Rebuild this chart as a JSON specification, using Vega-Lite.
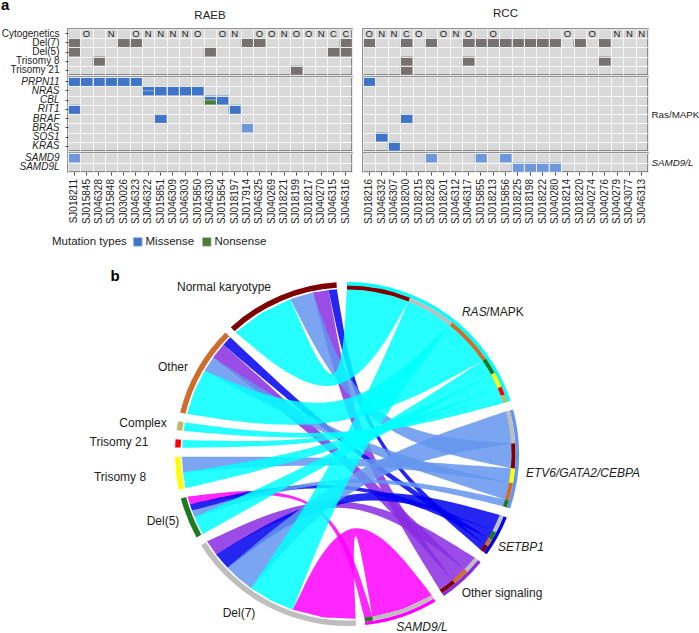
{"$schema":"https://vega.github.io/schema/vega-lite/v6.json","padding":{"left":0,"top":-4,"right":0,"bottom":0},"background":"white","config":{"font":"Liberation Sans","view":{"stroke":null,"fill":null},"text":{"color":"#222222"},"axis":{"labelColor":"#222222","tickColor":"#444444","title":null}},
"datasets":{
"tagA":[{"s":"SJ018211","f":"Cytogenetics","t":"a"}],
"rLet":[{"s":"SJ015845","t":"O"},{"s":"SJ015848","t":"N"},{"s":"SJ046323","t":"O"},{"s":"SJ046322","t":"N"},{"s":"SJ015851","t":"N"},{"s":"SJ046309","t":"N"},{"s":"SJ046303","t":"N"},{"s":"SJ015850","t":"O"},{"s":"SJ015854","t":"O"},{"s":"SJ018197","t":"N"},{"s":"SJ046325","t":"O"},{"s":"SJ040269","t":"O"},{"s":"SJ018221","t":"N"},{"s":"SJ018199","t":"O"},{"s":"SJ018217","t":"O"},{"s":"SJ040270","t":"N"},{"s":"SJ046315","t":"C"},{"s":"SJ046316","t":"C"}],
"cLet":[{"s":"SJ018216","t":"O"},{"s":"SJ046332","t":"N"},{"s":"SJ046307","t":"N"},{"s":"SJ018200","t":"C"},{"s":"SJ018215","t":"O"},{"s":"SJ018201","t":"O"},{"s":"SJ046312","t":"N"},{"s":"SJ046317","t":"O"},{"s":"SJ018213","t":"O"},{"s":"SJ018214","t":"O"},{"s":"SJ040274","t":"O"},{"s":"SJ040279","t":"N"},{"s":"SJ043077","t":"N"},{"s":"SJ046313","t":"N"}],
"rCyto":[{"s":"SJ018211","f":"Del(7)"},{"s":"SJ030026","f":"Del(7)"},{"s":"SJ046323","f":"Del(7)"},{"s":"SJ017914","f":"Del(7)"},{"s":"SJ046325","f":"Del(7)"},{"s":"SJ046316","f":"Del(7)"},{"s":"SJ018211","f":"Del(5)"},{"s":"SJ046330","f":"Del(5)"},{"s":"SJ046315","f":"Del(5)"},{"s":"SJ046316","f":"Del(5)"},{"s":"SJ046328","f":"Trisomy 8"},{"s":"SJ018199","f":"Trisomy 21"}],
"cCyto":[{"s":"SJ018216","f":"Del(7)"},{"s":"SJ018200","f":"Del(7)"},{"s":"SJ018228","f":"Del(7)"},{"s":"SJ046317","f":"Del(7)"},{"s":"SJ015855","f":"Del(7)"},{"s":"SJ018213","f":"Del(7)"},{"s":"SJ015856","f":"Del(7)"},{"s":"SJ018225","f":"Del(7)"},{"s":"SJ018198","f":"Del(7)"},{"s":"SJ018222","f":"Del(7)"},{"s":"SJ040280","f":"Del(7)"},{"s":"SJ018220","f":"Del(7)"},{"s":"SJ040276","f":"Del(7)"},{"s":"SJ018200","f":"Trisomy 8"},{"s":"SJ046317","f":"Trisomy 8"},{"s":"SJ040276","f":"Trisomy 8"},{"s":"SJ018200","f":"Trisomy 21"}],
"rGene":[{"s":"SJ018211","f":"PRPN11","k":"Missense"},{"s":"SJ015845","f":"PRPN11","k":"Missense"},{"s":"SJ046328","f":"PRPN11","k":"Missense"},{"s":"SJ015848","f":"PRPN11","k":"Missense"},{"s":"SJ030026","f":"PRPN11","k":"Missense"},{"s":"SJ046323","f":"PRPN11","k":"Missense"},{"s":"SJ015851","f":"NRAS","k":"Missense"},{"s":"SJ046309","f":"NRAS","k":"Missense"},{"s":"SJ046303","f":"NRAS","k":"Missense"},{"s":"SJ015850","f":"NRAS","k":"Missense"},{"s":"SJ015854","f":"CBL","k":"Missense"},{"s":"SJ018211","f":"RIT1","k":"Missense"},{"s":"SJ018197","f":"RIT1","k":"Missense"},{"s":"SJ015851","f":"BRAF","k":"Missense"},{"s":"SJ017914","f":"BRAS","k":"Germline"}],
"rSplit":[{"s":"SJ046322","f":"NRAS","k":"Missense","part":1},{"s":"SJ046322","f":"NRAS","k":"Missense","part":2},{"s":"SJ046330","f":"CBL","k":"Missense","part":1},{"s":"SJ046330","f":"CBL","k":"Nonsense","part":2}],
"cGene":[{"s":"SJ018216","f":"PRPN11","k":"Missense"},{"s":"SJ018200","f":"BRAF","k":"Missense"},{"s":"SJ046332","f":"SOS1","k":"Missense"},{"s":"SJ046307","f":"KRAS","k":"Missense"}],
"rSam":[{"s":"SJ018211","f":"SAMD9","k":"Germline"}],
"cSam":[{"s":"SJ018228","f":"SAMD9","k":"Germline"},{"s":"SJ015855","f":"SAMD9","k":"Germline"},{"s":"SJ015856","f":"SAMD9","k":"Germline"},{"s":"SJ018225","f":"SAMD9L","k":"Germline"},{"s":"SJ018198","f":"SAMD9L","k":"Germline"},{"s":"SJ018222","f":"SAMD9L","k":"Germline"},{"s":"SJ040280","f":"SAMD9L","k":"Germline"}],
"rings":[
{"c":"RAS/MAPK","t1":0,"t2":72,"r1":168.5,"r2":172},{"c":"ETV","t1":75,"t2":108.5,"r1":168.5,"r2":172},{"c":"SETBP1","t1":111.7,"t2":125.7,"r1":168.5,"r2":172},{"c":"Other signaling","t1":129,"t2":145.7,"r1":168.5,"r2":172},{"c":"SAMD9/L","t1":149,"t2":173.9,"r1":168.5,"r2":172},
{"c":"Del(7)","t1":177,"t2":238,"r1":166.5,"r2":172},{"c":"Del(5)","t1":241,"t2":255,"r1":166.5,"r2":172},{"c":"Trisomy 8","t1":258,"t2":269,"r1":166.5,"r2":172},{"c":"Trisomy 21","t1":272.2,"t2":274.9,"r1":166.5,"r2":172},{"c":"Complex","t1":278,"t2":281,"r1":166.5,"r2":172},{"c":"Other","t1":284,"t2":315,"r1":166.5,"r2":172},{"c":"Normal karyotype","t1":317.5,"t2":356.5,"r1":166.5,"r2":172},
{"c":"Normal karyotype","t1":0,"t2":22,"r1":164.5,"r2":168.5},{"c":"Del(7)","t1":22,"t2":38.6,"r1":164.5,"r2":168.5},{"c":"Other","t1":38.6,"t2":55.5,"r1":164.5,"r2":168.5},{"c":"Del(5)","t1":55.5,"t2":61.2,"r1":164.5,"r2":168.5},{"c":"Trisomy 8","t1":61.2,"t2":66.4,"r1":164.5,"r2":168.5},{"c":"Trisomy 21","t1":66.4,"t2":69.4,"r1":164.5,"r2":168.5},{"c":"Complex","t1":69.4,"t2":72,"r1":164.5,"r2":168.5},
{"c":"Del(7)","t1":75,"t2":86.3,"r1":164.5,"r2":168.5},{"c":"Normal karyotype","t1":86.3,"t2":95,"r1":164.5,"r2":168.5},{"c":"Trisomy 8","t1":95,"t2":100,"r1":164.5,"r2":168.5},{"c":"Other","t1":100,"t2":106,"r1":164.5,"r2":168.5},{"c":"Del(5)","t1":106,"t2":108.5,"r1":164.5,"r2":168.5},
{"c":"Del(7)","t1":111.7,"t2":117.8,"r1":164.5,"r2":168.5},{"c":"Del(5)","t1":117.8,"t2":120.7,"r1":164.5,"r2":168.5},{"c":"Other","t1":120.7,"t2":123.2,"r1":164.5,"r2":168.5},{"c":"Normal karyotype","t1":123.2,"t2":125.7,"r1":164.5,"r2":168.5},
{"c":"Del(7)","t1":129,"t2":134.4,"r1":164.5,"r2":168.5},{"c":"Other","t1":134.4,"t2":140.1,"r1":164.5,"r2":168.5},{"c":"Normal karyotype","t1":140.1,"t2":145.7,"r1":164.5,"r2":168.5},
{"c":"Del(7)","t1":149,"t2":171.1,"r1":164.5,"r2":168.5},{"c":"Del(5)","t1":171.1,"t2":173.9,"r1":164.5,"r2":168.5}],
"normalLabels":[{"t":"Normal karyotype","x":-123,"y":167},{"t":"Other","x":-174,"y":87},{"t":"Complex","x":-204,"y":31},{"t":"Trisomy 21","x":-228,"y":12},{"t":"Trisomy 8","x":-227,"y":-23},{"t":"Del(5)","x":-184,"y":-67},{"t":"Del(7)","x":-108,"y":-159},{"t":"Other signaling","x":155,"y":-139},{"t":"/MAPK","x":158,"y":142}],
"italicLabels":[{"t":"SAMD9/L","x":75,"y":-173},{"t":"SETBP1","x":174,"y":-93},{"t":"ETV6/GATA2/CEBPA","x":236,"y":-19},{"t":"RAS","x":127.3,"y":142}],
"tagB":[{"t":"b","x":-232,"y":178}],
"ribbons":[
{"g":"SAMD9/L","id":20,"s":[1,2,3],"x":85,"y":-141.4},{"g":"SAMD9/L","id":20,"s":[4,5,6],"x":56.4,"y":-155.1},{"g":"SAMD9/L","id":20,"s":[7,8,9],"x":25.5,"y":-163},{"g":"SAMD9/L","id":20,"s":[10],"x":4.3,"y":-41},{"g":"SAMD9/L","id":20,"s":[11,12,13],"x":8.6,"y":-164.8},{"g":"SAMD9/L","id":20,"s":[14,15,16],"x":-23,"y":-163.4},{"g":"SAMD9/L","id":20,"s":[17,18,19],"x":-54.3,"y":-155.8},{"g":"SAMD9/L","id":20,"s":[20],"x":3.9,"y":-37.2},{"g":"SAMD9/L","id":20,"s":[21,22,23],"x":85,"y":-141.4},
{"g":"SAMD9/L","id":21,"s":[1,2,3],"x":25.5,"y":-163},{"g":"SAMD9/L","id":21,"s":[7,8,9],"x":17.5,"y":-164.1},{"g":"SAMD9/L","id":21,"s":[10],"x":-17.5,"y":-26.8},{"g":"SAMD9/L","id":21,"s":[11,12,13],"x":-157.2,"y":-50.2},{"g":"SAMD9/L","id":21,"s":[17,18,19],"x":-159.4,"y":-42.7},{"g":"SAMD9/L","id":21,"s":[20],"x":-16.7,"y":-25.7},{"g":"SAMD9/L","id":21,"s":[21,22,23],"x":25.5,"y":-163},
{"g":"Other signaling","id":17,"s":[1,2,3],"x":128.2,"y":-103.8},{"g":"Other signaling","id":17,"s":[7,8,9],"x":117.9,"y":-115.5},{"g":"Other signaling","id":17,"s":[10],"x":-1.6,"y":-27},{"g":"Other signaling","id":17,"s":[11,12,13],"x":-130.9,"y":-100.5},{"g":"Other signaling","id":17,"s":[17,18,19],"x":-139.9,"y":-87.4},{"g":"Other signaling","id":17,"s":[20],"x":-1.5,"y":-23.9},{"g":"Other signaling","id":17,"s":[21,22,23],"x":128.2,"y":-103.8},
{"g":"Other signaling","id":18,"s":[1,2,3],"x":117.9,"y":-115.5},{"g":"Other signaling","id":18,"s":[7,8,9],"x":105.8,"y":-126.6},{"g":"Other signaling","id":18,"s":[10],"x":-3.5,"y":-3.8},{"g":"Other signaling","id":18,"s":[11,12,13],"x":-133.8,"y":96.5},{"g":"Other signaling","id":18,"s":[17,18,19],"x":-123.6,"y":109.3},{"g":"Other signaling","id":18,"s":[20],"x":-0.7,"y":-0.8},{"g":"Other signaling","id":18,"s":[21,22,23],"x":117.9,"y":-115.5},
{"g":"Other signaling","id":19,"s":[1,2,3],"x":105.8,"y":-126.6},{"g":"Other signaling","id":19,"s":[7,8,9],"x":93,"y":-136.3},{"g":"Other signaling","id":19,"s":[10],"x":7.4,"y":3.2},{"g":"Other signaling","id":19,"s":[11,12,13],"x":-34,"y":161.5},{"g":"Other signaling","id":19,"s":[17,18,19],"x":-18.4,"y":164},{"g":"Other signaling","id":19,"s":[20],"x":11,"y":4.7},{"g":"Other signaling","id":19,"s":[21,22,23],"x":105.8,"y":-126.6},
{"g":"SETBP1","id":13,"s":[1,2,3],"x":153.3,"y":-61},{"g":"SETBP1","id":13,"s":[7,8,9],"x":146,"y":-77},{"g":"SETBP1","id":13,"s":[10],"x":3.3,"y":-23.8},{"g":"SETBP1","id":13,"s":[11,12,13],"x":-119.5,"y":-113.8},{"g":"SETBP1","id":13,"s":[17,18,19],"x":-130.9,"y":-100.5},{"g":"SETBP1","id":13,"s":[20],"x":2.8,"y":-20.2},{"g":"SETBP1","id":13,"s":[21,22,23],"x":153.3,"y":-61},
{"g":"SETBP1","id":14,"s":[1,2,3],"x":146,"y":-77},{"g":"SETBP1","id":14,"s":[7,8,9],"x":141.9,"y":-84.2},{"g":"SETBP1","id":14,"s":[10],"x":-1.6,"y":-17.6},{"g":"SETBP1","id":14,"s":[11,12,13],"x":-155,"y":-56.7},{"g":"SETBP1","id":14,"s":[17,18,19],"x":-157.2,"y":-50.2},{"g":"SETBP1","id":14,"s":[20],"x":-1.4,"y":-15.9},{"g":"SETBP1","id":14,"s":[21,22,23],"x":146,"y":-77},
{"g":"SETBP1","id":15,"s":[1,2,3],"x":141.9,"y":-84.2},{"g":"SETBP1","id":15,"s":[7,8,9],"x":138.1,"y":-90.4},{"g":"SETBP1","id":15,"s":[10],"x":1.8,"y":2.4},{"g":"SETBP1","id":15,"s":[11,12,13],"x":-123.6,"y":109.3},{"g":"SETBP1","id":15,"s":[17,18,19],"x":-116.7,"y":116.7},{"g":"SETBP1","id":15,"s":[20],"x":3.2,"y":4.1},{"g":"SETBP1","id":15,"s":[21,22,23],"x":141.9,"y":-84.2},
{"g":"SETBP1","id":16,"s":[1,2,3],"x":138.1,"y":-90.4},{"g":"SETBP1","id":16,"s":[7,8,9],"x":134,"y":-96.3},{"g":"SETBP1","id":16,"s":[10],"x":14.5,"y":8.5},{"g":"SETBP1","id":16,"s":[11,12,13],"x":-18.4,"y":164},{"g":"SETBP1","id":16,"s":[17,18,19],"x":-10.1,"y":164.7},{"g":"SETBP1","id":16,"s":[20],"x":16,"y":9.3},{"g":"SETBP1","id":16,"s":[21,22,23],"x":138.1,"y":-90.4},
{"g":"ETV","id":8,"s":[1,2,3],"x":159.4,"y":42.7},{"g":"ETV","id":8,"s":[4,5,6],"x":162.8,"y":26.9},{"g":"ETV","id":8,"s":[7,8,9],"x":164.7,"y":10.6},{"g":"ETV","id":8,"s":[10],"x":8.6,"y":-15.5},{"g":"ETV","id":8,"s":[11,12,13],"x":-96,"y":-134.2},{"g":"ETV","id":8,"s":[14,15,16],"x":-108.3,"y":-124.5},{"g":"ETV","id":8,"s":[17,18,19],"x":-119.5,"y":-113.8},{"g":"ETV","id":8,"s":[20],"x":5,"y":-8.9},{"g":"ETV","id":8,"s":[21,22,23],"x":159.4,"y":42.7},
{"g":"ETV","id":9,"s":[1,2,3],"x":164.7,"y":10.6},{"g":"ETV","id":9,"s":[7,8,9],"x":164.4,"y":-14.4},{"g":"ETV","id":9,"s":[10],"x":13.5,"y":17.6},{"g":"ETV","id":9,"s":[11,12,13],"x":-56.7,"y":154.9},{"g":"ETV","id":9,"s":[17,18,19],"x":-34,"y":161.5},{"g":"ETV","id":9,"s":[20],"x":16.3,"y":21.5},{"g":"ETV","id":9,"s":[21,22,23],"x":164.7,"y":10.6},
{"g":"ETV","id":10,"s":[1,2,3],"x":164.4,"y":-14.4},{"g":"ETV","id":10,"s":[7,8,9],"x":162.5,"y":-28.7},{"g":"ETV","id":10,"s":[10],"x":-0.2,"y":-5.9},{"g":"ETV","id":10,"s":[11,12,13],"x":-164,"y":-18.4},{"g":"ETV","id":10,"s":[17,18,19],"x":-165,"y":-2.9},{"g":"ETV","id":10,"s":[20],"x":-0.1,"y":-2.2},{"g":"ETV","id":10,"s":[21,22,23],"x":164.4,"y":-14.4},
{"g":"ETV","id":11,"s":[1,2,3],"x":162.5,"y":-28.7},{"g":"ETV","id":11,"s":[7,8,9],"x":158.6,"y":-45.5},{"g":"ETV","id":11,"s":[10],"x":2,"y":4.7},{"g":"ETV","id":11,"s":[11,12,13],"x":-142.5,"y":83.2},{"g":"ETV","id":11,"s":[17,18,19],"x":-133.8,"y":96.5},{"g":"ETV","id":11,"s":[20],"x":3.6,"y":8.5},{"g":"ETV","id":11,"s":[21,22,23],"x":162.5,"y":-28.7},
{"g":"ETV","id":12,"s":[1,2,3],"x":158.6,"y":-45.5},{"g":"ETV","id":12,"s":[7,8,9],"x":156.5,"y":-52.4},{"g":"ETV","id":12,"s":[10],"x":0.5,"y":-14.4},{"g":"ETV","id":12,"s":[11,12,13],"x":-152.4,"y":-63.1},{"g":"ETV","id":12,"s":[17,18,19],"x":-155,"y":-56.7},{"g":"ETV","id":12,"s":[20],"x":0.5,"y":-12.8},{"g":"ETV","id":12,"s":[21,22,23],"x":158.6,"y":-45.5},
{"g":"RAS/MAPK","id":1,"s":[1,2,3],"x":0,"y":165},{"g":"RAS/MAPK","id":1,"s":[4,5,6],"x":31.5,"y":162},{"g":"RAS/MAPK","id":1,"s":[7,8,9],"x":61.8,"y":153},{"g":"RAS/MAPK","id":1,"s":[10],"x":-6.2,"y":34.3},{"g":"RAS/MAPK","id":1,"s":[11,12,13],"x":-111.5,"y":121.7},{"g":"RAS/MAPK","id":1,"s":[14,15,16],"x":-85.7,"y":141},{"g":"RAS/MAPK","id":1,"s":[17,18,19],"x":-56.7,"y":154.9},{"g":"RAS/MAPK","id":1,"s":[20],"x":-7.1,"y":40},{"g":"RAS/MAPK","id":1,"s":[21,22,23],"x":0,"y":165},
{"g":"RAS/MAPK","id":2,"s":[1,2,3],"x":61.8,"y":153},{"g":"RAS/MAPK","id":2,"s":[4,5,6],"x":83.2,"y":142.5},{"g":"RAS/MAPK","id":2,"s":[7,8,9],"x":102.9,"y":128.9},{"g":"RAS/MAPK","id":2,"s":[10],"x":6.1,"y":-3.4},{"g":"RAS/MAPK","id":2,"s":[11,12,13],"x":-54.3,"y":-155.8},{"g":"RAS/MAPK","id":2,"s":[14,15,16],"x":-75.9,"y":-146.5},{"g":"RAS/MAPK","id":2,"s":[17,18,19],"x":-96,"y":-134.2},{"g":"RAS/MAPK","id":2,"s":[20],"x":-4.3,"y":2.4},{"g":"RAS/MAPK","id":2,"s":[21,22,23],"x":61.8,"y":153},
{"g":"RAS/MAPK","id":3,"s":[1,2,3],"x":102.9,"y":128.9},{"g":"RAS/MAPK","id":3,"s":[4,5,6],"x":120.7,"y":112.5},{"g":"RAS/MAPK","id":3,"s":[7,8,9],"x":136,"y":93.5},{"g":"RAS/MAPK","id":3,"s":[10],"x":-3,"y":16.7},{"g":"RAS/MAPK","id":3,"s":[11,12,13],"x":-160.1,"y":39.9},{"g":"RAS/MAPK","id":3,"s":[14,15,16],"x":-153,"y":61.8},{"g":"RAS/MAPK","id":3,"s":[17,18,19],"x":-142.5,"y":83.2},{"g":"RAS/MAPK","id":3,"s":[20],"x":-5,"y":26.5},{"g":"RAS/MAPK","id":3,"s":[21,22,23],"x":102.9,"y":128.9},
{"g":"RAS/MAPK","id":4,"s":[1,2,3],"x":136,"y":93.5},{"g":"RAS/MAPK","id":4,"s":[7,8,9],"x":144.6,"y":79.5},{"g":"RAS/MAPK","id":4,"s":[10],"x":0,"y":0},{"g":"RAS/MAPK","id":4,"s":[11,12,13],"x":-144.3,"y":-80},{"g":"RAS/MAPK","id":4,"s":[17,18,19],"x":-152.4,"y":-63.1},{"g":"RAS/MAPK","id":4,"s":[20],"x":-2.1,"y":3.8},{"g":"RAS/MAPK","id":4,"s":[21,22,23],"x":136,"y":93.5},
{"g":"RAS/MAPK","id":5,"s":[1,2,3],"x":144.6,"y":79.5},{"g":"RAS/MAPK","id":5,"s":[7,8,9],"x":151.2,"y":66.1},{"g":"RAS/MAPK","id":5,"s":[10],"x":-1.3,"y":4},{"g":"RAS/MAPK","id":5,"s":[11,12,13],"x":-161.4,"y":-34.3},{"g":"RAS/MAPK","id":5,"s":[17,18,19],"x":-164,"y":-18.4},{"g":"RAS/MAPK","id":5,"s":[20],"x":-2.4,"y":7.6},{"g":"RAS/MAPK","id":5,"s":[21,22,23],"x":144.6,"y":79.5},
{"g":"RAS/MAPK","id":6,"s":[1,2,3],"x":151.2,"y":66.1},{"g":"RAS/MAPK","id":6,"s":[7,8,9],"x":154.5,"y":58},{"g":"RAS/MAPK","id":6,"s":[10],"x":-1.3,"y":8},{"g":"RAS/MAPK","id":6,"s":[11,12,13],"x":-164.9,"y":6.3},{"g":"RAS/MAPK","id":6,"s":[17,18,19],"x":-164.4,"y":14.1},{"g":"RAS/MAPK","id":6,"s":[20],"x":-1.6,"y":10},{"g":"RAS/MAPK","id":6,"s":[21,22,23],"x":151.2,"y":66.1},
{"g":"RAS/MAPK","id":7,"s":[1,2,3],"x":154.5,"y":58},{"g":"RAS/MAPK","id":7,"s":[7,8,9],"x":156.9,"y":51},{"g":"RAS/MAPK","id":7,"s":[10],"x":-0.8,"y":9.3},{"g":"RAS/MAPK","id":7,"s":[11,12,13],"x":-163.4,"y":23},{"g":"RAS/MAPK","id":7,"s":[17,18,19],"x":-162,"y":31.5},{"g":"RAS/MAPK","id":7,"s":[20],"x":-0.9,"y":11.2},{"g":"RAS/MAPK","id":7,"s":[21,22,23],"x":154.5,"y":58}
]},
"vconcat":[
{"hconcat":[
{"bounds":"flush","vconcat":[
{"width":284,"height":46,"view":{"fill":"#d9d9d9","stroke":"#6e6e6e","strokeWidth":1.5},"title":{"text":"RAEB","fontSize":11.5,"fontWeight":"normal","color":"#222222","offset":0,"dy":23.5},"resolve":{"axis":{"x":"independent","y":"independent"}},"layer":[
{"data":{"name":"rCyto"},"mark":{"type":"rect","opacity":0},"encoding":{"x":{"field":"s","type":"nominal","scale":{"domain":["SJ018211","SJ015845","SJ046328","SJ015848","SJ030026","SJ046323","SJ046322","SJ015851","SJ046309","SJ046303","SJ015850","SJ046330","SJ015854","SJ018197","SJ017914","SJ046325","SJ040269","SJ018221","SJ018199","SJ018217","SJ040270","SJ046315","SJ046316"],"paddingInner":0,"paddingOuter":0},"axis":{"orient":"bottom","grid":true,"tickBand":"extent","gridColor":"white","gridWidth":0.8,"labels":false,"ticks":false,"domain":false}},"y":{"field":"f","type":"nominal","scale":{"domain":["Cytogenetics","Del(7)","Del(5)","Trisomy 8","Trisomy 21"],"paddingInner":0,"paddingOuter":0},"axis":{"orient":"left","grid":true,"tickBand":"extent","gridColor":"white","gridWidth":0.8,"labels":false,"ticks":false,"domain":false}}}},
{"data":{"name":"rCyto"},"mark":{"type":"rect","fill":"#777171","stroke":"#bdbbbb","strokeWidth":0.4},"encoding":{"x":{"field":"s","type":"nominal","axis":null},"y":{"field":"f","type":"nominal","axis":{"orient":"left","domain":false,"labelFontSize":10,"tickSize":3,"labelPadding":6}}}},
{"data":{"name":"rLet"},"mark":{"type":"text","fontSize":9.5},"encoding":{"x":{"field":"s","type":"nominal","axis":null},"y":{"datum":"Cytogenetics","type":"nominal","axis":null},"text":{"field":"t"}}},
{"data":{"name":"tagA"},"mark":{"type":"text","fontSize":15,"fontWeight":"bold","dx":-69,"dy":-29,"color":"#000000"},"encoding":{"x":{"field":"s","type":"nominal","axis":null},"y":{"field":"f","type":"nominal","axis":null},"text":{"field":"t"}}}
]},
{"width":284,"height":74,"view":{"fill":"#d9d9d9","stroke":"#6e6e6e","strokeWidth":1.5},"resolve":{"axis":{"x":"independent","y":"independent"}},"layer":[
{"data":{"name":"rGene"},"mark":{"type":"rect","opacity":0},"encoding":{"x":{"field":"s","type":"nominal","scale":{"domain":["SJ018211","SJ015845","SJ046328","SJ015848","SJ030026","SJ046323","SJ046322","SJ015851","SJ046309","SJ046303","SJ015850","SJ046330","SJ015854","SJ018197","SJ017914","SJ046325","SJ040269","SJ018221","SJ018199","SJ018217","SJ040270","SJ046315","SJ046316"],"paddingInner":0,"paddingOuter":0},"axis":{"orient":"bottom","grid":true,"tickBand":"extent","gridColor":"white","gridWidth":0.8,"labels":false,"ticks":false,"domain":false}},"y":{"field":"f","type":"nominal","scale":{"domain":["PRPN11","NRAS","CBL","RIT1","BRAF","BRAS","SOS1","KRAS"],"paddingInner":0,"paddingOuter":0},"axis":{"orient":"left","grid":true,"tickBand":"extent","gridColor":"white","gridWidth":0.8,"labels":false,"ticks":false,"domain":false}}}},
{"data":{"name":"rGene"},"mark":{"type":"rect","stroke":"#c5d2e6","strokeWidth":0.4},"encoding":{"x":{"field":"s","type":"nominal","axis":null},"y":{"field":"f","type":"nominal","axis":{"orient":"left","domain":false,"labelFontSize":10,"labelFontStyle":"italic","tickSize":3,"labelPadding":6}},"color":{"field":"k","type":"nominal","scale":{"domain":["Missense","Nonsense","Germline"],"range":["#3f74c8","#4a7c2c","#6f98dc"]},"legend":{"title":"Mutation types","orient":"none","legendX":-16,"legendY":207,"direction":"horizontal","titleOrient":"left","values":["Missense","Nonsense"],"symbolType":"square","symbolSize":80,"symbolStrokeColor":"#555555","symbolStrokeWidth":0.8,"labelFontSize":11.5,"titleFontSize":11.5,"titleFontWeight":"normal","titleColor":"#222222","labelColor":"#222222","columnPadding":5,"labelOffset":2,"symbolOffset":0}}}},
{"data":{"name":"rSplit"},"mark":{"type":"rect","stroke":"#c5d2e6","strokeWidth":0.4},"encoding":{"x":{"field":"s","type":"nominal","axis":null},"y":{"field":"f","type":"nominal","axis":null},"yOffset":{"field":"part","type":"nominal","scale":{"paddingInner":0,"paddingOuter":0}},"color":{"field":"k","type":"nominal"}}}
]},
{"width":284,"height":19,"view":{"fill":"#d9d9d9","stroke":"#6e6e6e","strokeWidth":1.5},"resolve":{"axis":{"x":"independent","y":"independent"}},"layer":[
{"data":{"name":"rSam"},"mark":{"type":"rect","opacity":0},"encoding":{"x":{"field":"s","type":"nominal","scale":{"domain":["SJ018211","SJ015845","SJ046328","SJ015848","SJ030026","SJ046323","SJ046322","SJ015851","SJ046309","SJ046303","SJ015850","SJ046330","SJ015854","SJ018197","SJ017914","SJ046325","SJ040269","SJ018221","SJ018199","SJ018217","SJ040270","SJ046315","SJ046316"],"paddingInner":0,"paddingOuter":0},"axis":{"orient":"bottom","grid":true,"tickBand":"extent","gridColor":"white","gridWidth":0.8,"labels":false,"ticks":false,"domain":false}},"y":{"field":"f","type":"nominal","scale":{"domain":["SAMD9","SAMD9L"],"paddingInner":0,"paddingOuter":0},"axis":{"orient":"left","grid":true,"tickBand":"extent","gridColor":"white","gridWidth":0.8,"labels":false,"ticks":false,"domain":false}}}},
{"data":{"name":"rSam"},"mark":{"type":"rect","stroke":"#c5d2e6","strokeWidth":0.4},"encoding":{"x":{"field":"s","type":"nominal","axis":{"orient":"bottom","domain":false,"labelAngle":270,"labelFontSize":10,"tickSize":3,"labelPadding":3.5}},"y":{"field":"f","type":"nominal","axis":{"orient":"left","domain":false,"labelFontSize":10,"labelFontStyle":"italic","tickSize":0,"labelPadding":9}},"color":{"field":"k","type":"nominal"}}}
]}
],"spacing":2},
{"bounds":"flush","vconcat":[
{"width":285,"height":46,"view":{"fill":"#d9d9d9","stroke":"#6e6e6e","strokeWidth":1.5},"title":{"text":"RCC","fontSize":11.5,"fontWeight":"normal","color":"#222222","offset":9},"resolve":{"axis":{"x":"independent","y":"independent"}},"layer":[
{"data":{"name":"cCyto"},"mark":{"type":"rect","opacity":0},"encoding":{"x":{"field":"s","type":"nominal","scale":{"domain":["SJ018216","SJ046332","SJ046307","SJ018200","SJ018215","SJ018228","SJ018201","SJ046312","SJ046317","SJ015855","SJ018213","SJ015856","SJ018225","SJ018198","SJ018222","SJ040280","SJ018214","SJ018220","SJ040274","SJ040276","SJ040279","SJ043077","SJ046313"],"paddingInner":0,"paddingOuter":0},"axis":{"orient":"bottom","grid":true,"tickBand":"extent","gridColor":"white","gridWidth":0.8,"labels":false,"ticks":false,"domain":false}},"y":{"field":"f","type":"nominal","scale":{"domain":["Cytogenetics","Del(7)","Del(5)","Trisomy 8","Trisomy 21"],"paddingInner":0,"paddingOuter":0},"axis":{"orient":"left","grid":true,"tickBand":"extent","gridColor":"white","gridWidth":0.8,"labels":false,"ticks":false,"domain":false}}}},
{"data":{"name":"cCyto"},"mark":{"type":"rect","fill":"#777171","stroke":"#bdbbbb","strokeWidth":0.4},"encoding":{"x":{"field":"s","type":"nominal","axis":null},"y":{"field":"f","type":"nominal","axis":null}}},
{"data":{"name":"cLet"},"mark":{"type":"text","fontSize":9.5},"encoding":{"x":{"field":"s","type":"nominal","axis":null},"y":{"datum":"Cytogenetics","type":"nominal","axis":null},"text":{"field":"t"}}}
]},
{"width":285,"height":74,"view":{"fill":"#d9d9d9","stroke":"#6e6e6e","strokeWidth":1.5},"resolve":{"axis":{"x":"independent","y":"independent"}},"layer":[
{"data":{"name":"cGene"},"mark":{"type":"rect","opacity":0},"encoding":{"x":{"field":"s","type":"nominal","scale":{"domain":["SJ018216","SJ046332","SJ046307","SJ018200","SJ018215","SJ018228","SJ018201","SJ046312","SJ046317","SJ015855","SJ018213","SJ015856","SJ018225","SJ018198","SJ018222","SJ040280","SJ018214","SJ018220","SJ040274","SJ040276","SJ040279","SJ043077","SJ046313"],"paddingInner":0,"paddingOuter":0},"axis":{"orient":"bottom","grid":true,"tickBand":"extent","gridColor":"white","gridWidth":0.8,"labels":false,"ticks":false,"domain":false}},"y":{"field":"f","type":"nominal","scale":{"domain":["PRPN11","NRAS","CBL","RIT1","BRAF","BRAS","SOS1","KRAS"],"paddingInner":0,"paddingOuter":0},"axis":{"orient":"left","grid":true,"tickBand":"extent","gridColor":"white","gridWidth":0.8,"labels":false,"ticks":false,"domain":false}}}},
{"data":{"name":"cGene"},"mark":{"type":"rect","stroke":"#c5d2e6","strokeWidth":0.4},"encoding":{"x":{"field":"s","type":"nominal","axis":null},"y":{"field":"f","type":"nominal","axis":{"orient":"right","labels":false,"ticks":false,"domain":false,"title":"Ras/MAPK","titleAngle":0,"titleAlign":"left","titleBaseline":"middle","titleFontSize":9.8,"titleFontWeight":"normal","titleColor":"#222222","titlePadding":3}},"color":{"field":"k","type":"nominal"}}}
]},
{"width":285,"height":19,"view":{"fill":"#d9d9d9","stroke":"#6e6e6e","strokeWidth":1.5},"resolve":{"axis":{"x":"independent","y":"independent"}},"layer":[
{"data":{"name":"cSam"},"mark":{"type":"rect","opacity":0},"encoding":{"x":{"field":"s","type":"nominal","scale":{"domain":["SJ018216","SJ046332","SJ046307","SJ018200","SJ018215","SJ018228","SJ018201","SJ046312","SJ046317","SJ015855","SJ018213","SJ015856","SJ018225","SJ018198","SJ018222","SJ040280","SJ018214","SJ018220","SJ040274","SJ040276","SJ040279","SJ043077","SJ046313"],"paddingInner":0,"paddingOuter":0},"axis":{"orient":"bottom","grid":true,"tickBand":"extent","gridColor":"white","gridWidth":0.8,"labels":false,"ticks":false,"domain":false}},"y":{"field":"f","type":"nominal","scale":{"domain":["SAMD9","SAMD9L"],"paddingInner":0,"paddingOuter":0},"axis":{"orient":"left","grid":true,"tickBand":"extent","gridColor":"white","gridWidth":0.8,"labels":false,"ticks":false,"domain":false}}}},
{"data":{"name":"cSam"},"mark":{"type":"rect","stroke":"#c5d2e6","strokeWidth":0.4},"encoding":{"x":{"field":"s","type":"nominal","axis":{"orient":"bottom","domain":false,"labelAngle":270,"labelFontSize":10,"tickSize":3,"labelPadding":3.5}},"y":{"field":"f","type":"nominal","axis":{"orient":"right","labels":false,"ticks":false,"domain":false,"title":"SAMD9/L","titleAngle":0,"titleAlign":"left","titleBaseline":"middle","titleFontSize":9.8,"titleFontStyle":"italic","titleFontWeight":"normal","titleColor":"#222222","titlePadding":3}},"color":{"field":"k","type":"nominal"}}}
]}
],"spacing":2}
],"spacing":9},
{"width":558,"height":358,"layer":[
{"data":{"name":"ribbons"},"transform":[{"flatten":["s"]}],"mark":{"type":"line","interpolate":"basis","opacity":0.85,"strokeWidth":0},"encoding":{"x":{"field":"x","type":"quantitative","scale":{"domain":[-279,279],"nice":false,"zero":false},"axis":null},"y":{"field":"y","type":"quantitative","scale":{"domain":[-179,179],"nice":false,"zero":false},"axis":null},"detail":{"field":"id"},"order":{"field":"s","type":"quantitative"},"fill":{"field":"g","type":"nominal","scale":{"domain":["RAS/MAPK","ETV","SETBP1","Other signaling","SAMD9/L","Del(7)","Del(5)","Trisomy 8","Trisomy 21","Complex","Other","Normal karyotype"],"range":["#00ffff","#6495ed","#0000f0","#8a2be2","#ff00ff","#bebebe","#1f7a1f","#ffff00","#ff0000","#bdb76b","#cd6f2a","#7f0000"]},"legend":null}}},
{"data":{"name":"rings"},"mark":{"type":"arc"},"encoding":{"theta":{"field":"t1","type":"quantitative","scale":{"domain":[0,360],"range":[0,6.28318]}},"theta2":{"field":"t2"},"radius":{"field":"r1","type":"quantitative","scale":{"domain":[0,172],"range":[0,172]}},"radius2":{"field":"r2"},"fill":{"field":"c","type":"nominal","legend":null}}},
{"data":{"name":"normalLabels"},"mark":{"type":"text","fontSize":12},"encoding":{"x":{"field":"x","type":"quantitative"},"y":{"field":"y","type":"quantitative"},"text":{"field":"t"}}},
{"data":{"name":"italicLabels"},"mark":{"type":"text","fontSize":12,"fontStyle":"italic"},"encoding":{"x":{"field":"x","type":"quantitative"},"y":{"field":"y","type":"quantitative"},"text":{"field":"t"}}},
{"data":{"name":"tagB"},"mark":{"type":"text","fontSize":15,"fontWeight":"bold","color":"#000000"},"encoding":{"x":{"field":"x","type":"quantitative"},"y":{"field":"y","type":"quantitative"},"text":{"field":"t"}}}
]}
],"spacing":44}
